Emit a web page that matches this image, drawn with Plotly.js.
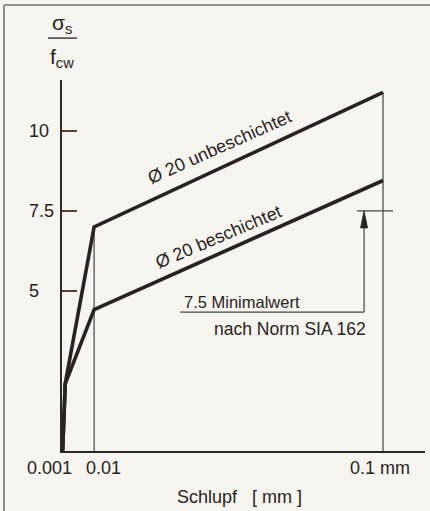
<!DOCTYPE html>
<html>
<head>
<meta charset="utf-8">
<script src="https://cdn.plot.ly/plotly-3.0.1.min.js"></script>
<style>html,body{margin:0;padding:0;background:#f6f5f0;}</style>
</head>
<body>
<div id="chart" style="width:430px;height:511px;"></div>
<script>
// ---- data ----
const slip = [0.0002, 0.001, 0.01, 0.1];                 // Schlupf [mm]
const unbeschichtet = [0, 2.1, 7.0, 11.2];               // σs/fcw, Ø 20 unbeschichtet
const beschichtet = [0, 2.1, 4.42, 8.45];                // σs/fcw, Ø 20 beschichtet
const yTickVals = [5, 7.5, 10];
const yTickText = ['5', '7.5', '10'];
const xTickVals = [0, 0.01, 0.1];
const xTickText = ['0.001', '0.01', '0.1 mm'];
const minValue = 7.5;                                    // Minimalwert nach Norm SIA 162

// ---- geometry helpers ----
const XMAX = 0.11308, YMAX = 11.59;
const plotW = 363, plotH = 371;
const pxX = XMAX / plotW, pxY = YMAX / plotH;

const dark = '#2a2220', thin = '#4a4340', font = 'Liberation Sans, Arial, sans-serif';

const traces = [
  {x: [slip[2], slip[2]], y: [0, unbeschichtet[2]], mode: 'lines', line: {color: thin, width: 1.2}, hoverinfo: 'skip'},
  {x: [slip[3], slip[3]], y: [0, unbeschichtet[3]], mode: 'lines', line: {color: thin, width: 1.2}, hoverinfo: 'skip'},
  {x: slip, y: unbeschichtet, mode: 'lines', name: 'Ø 20 unbeschichtet', line: {color: dark, width: 3.6}},
  {x: slip, y: beschichtet, mode: 'lines', name: 'Ø 20 beschichtet', line: {color: dark, width: 3.6}}
];

const arrowX = 0.0941, lowY = 4.34;
const annotations = [];
yTickVals.forEach((v, i) => annotations.push({x: 0, y: v, xref: 'x', yref: 'y', text: yTickText[i], showarrow: false,
  xanchor: 'left', xshift: -35, font: {size: 18, color: dark, family: font}}));
const xShifts = [-12.5, 9, -3.5];
xTickVals.forEach((v, i) => annotations.push({x: v, y: 0, xref: 'x', yref: 'y', text: xTickText[i], showarrow: false,
  xanchor: 'center', yanchor: 'middle', xshift: xShifts[i], yshift: -17, font: {size: 18, color: dark, family: font}}));
annotations.push({x: 0.49, y: -0.124, xref: 'paper', yref: 'paper', text: 'Schlupf\u00a0\u00a0\u00a0[ mm ]', showarrow: false,
  xanchor: 'center', yanchor: 'middle', font: {size: 18, color: dark, family: font}});
annotations.push({x: 0, y: 1, xref: 'paper', yref: 'paper', text: 'σ<sub>s</sub>', showarrow: false,
  xanchor: 'center', yanchor: 'middle', yshift: 56, font: {size: 21, color: dark, family: font}});
annotations.push({x: 0, y: 1, xref: 'paper', yref: 'paper', text: 'f<sub>cw</sub>', showarrow: false,
  xanchor: 'center', yanchor: 'middle', yshift: 22, font: {size: 21, color: dark, family: font}});
annotations.push({x: 0.0492, y: 9.5, xref: 'x', yref: 'y', text: 'Ø 20 unbeschichtet', showarrow: false, textangle: -24,
  font: {size: 18, color: dark, family: font}});
annotations.push({x: 0.0487, y: 6.68, xref: 'x', yref: 'y', text: 'Ø 20 beschichtet', showarrow: false, textangle: -23,
  font: {size: 18, color: dark, family: font}});
annotations.push({x: 0.0561, y: 4.66, xref: 'x', yref: 'y', text: minValue + ' Minimalwert', showarrow: false,
  font: {size: 16.5, color: dark, family: font}});
annotations.push({x: 0.0710, y: 3.8, xref: 'x', yref: 'y', text: 'nach Norm SIA 162', showarrow: false,
  font: {size: 17.5, color: dark, family: font}});

const headLen = 17 * pxY, headHalf = 3.5 * pxX;
const frame = '#77726d';
const shapes = [
  {type: 'line', xref: 'paper', yref: 'paper', x0: -0.1598, x1: 1.02, y0: 1.202, y1: 1.202, line: {color: frame, width: 1.6}},
  {type: 'line', xref: 'paper', yref: 'paper', x0: -0.1598, x1: -0.1598, y0: 1.202, y1: -0.17, line: {color: frame, width: 1.6}},
  {type: 'line', xref: 'paper', yref: 'paper', x0: -0.0386, x1: 0.0413, y0: 1.113, y1: 1.113, line: {color: dark, width: 1.3}},
  {type: 'line', xref: 'x', yref: 'y', x0: 0.0919, x1: 0.1031, y0: minValue, y1: minValue, line: {color: thin, width: 1.2}},
  {type: 'line', xref: 'x', yref: 'y', x0: 0.0368, x1: arrowX, y0: lowY, y1: lowY, line: {color: thin, width: 1.2}},
  {type: 'line', xref: 'x', yref: 'y', x0: arrowX, x1: arrowX, y0: lowY, y1: minValue - headLen, line: {color: thin, width: 1.2}},
  {type: 'path', xref: 'x', yref: 'y', path: `M ${arrowX} ${minValue} L ${arrowX - headHalf} ${minValue - headLen} L ${arrowX + headHalf} ${minValue - headLen} Z`,
   fillcolor: dark, line: {color: dark, width: 0.8}}
];

const layout = {
  width: 430, height: 511,
  margin: {l: 62, r: 5, t: 80, b: 60},
  paper_bgcolor: '#f6f5f0', plot_bgcolor: '#f6f5f0',
  showlegend: false,
  xaxis: {range: [0, XMAX], showline: true, linecolor: '#2e2825', linewidth: 1.6, showgrid: false, zeroline: false,
    showticklabels: false, ticks: ''},
  yaxis: {range: [0, YMAX], showline: true, linecolor: '#2e2825', linewidth: 1.6, showgrid: false, zeroline: false,
    showticklabels: false, ticks: 'inside', tickvals: yTickVals, ticklen: 15, tickwidth: 1.4, tickcolor: '#5b3a30'},
  annotations: annotations,
  shapes: shapes
};

Plotly.newPlot('chart', traces, layout, {staticPlot: true, displayModeBar: false});
</script>
</body>
</html>
